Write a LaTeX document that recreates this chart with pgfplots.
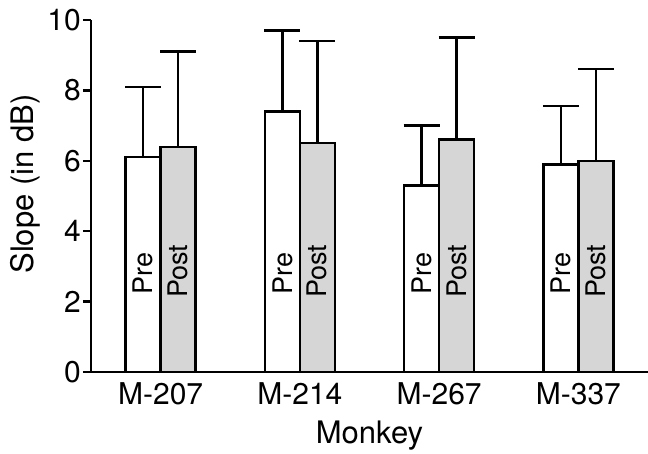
\documentclass[border=0pt]{standalone}
\usepackage{fontspec}
\setmainfont{TeX Gyre Heros}
\usepackage{pgfplots}
\pgfplotsset{compat=1.18}
\definecolor{stipple}{gray}{0.84}
\begin{document}
\begin{tikzpicture}
\begin{axis}[
  scale only axis, width=557pt, height=352pt,
  xmin=-0.5, xmax=3.5, ymin=0, ymax=10,
  axis x line*=bottom, axis y line*=left,
  axis line style={line width=2.6pt},
  xtick={0,1,2,3}, xticklabels={M-207,M-214,M-267,M-337},
  x tick style={draw=none},
  ytick={0,2,4,6,8,10},
  y tick style={line width=2.4pt, black},
  tick align=outside, major tick length=8pt,
  /pgf/number format/assume math mode=true,
  ticklabel style={font=\fontsize{30}{32}\selectfont, inner sep=2pt},
  label style={font=\fontsize{31}{33}\selectfont},
  xlabel={Monkey},
  ylabel={Slope (in dB)},
  ylabel style={at={(axis description cs:-0.118,0.534)}, anchor=center},
  xlabel style={at={(axis description cs:0.5,-0.203)}, anchor=base},
  ybar=0pt, bar width=35pt,
  clip=false,
  every axis plot/.append style={line width=2.4pt, draw=black},
  error bars/y dir=plus, error bars/y explicit,
  error bars/error bar style={line width=2.4pt, black},
  error bars/error mark options={rotate=90, line width=2.4pt, black, mark size=18pt},
]
\addplot[fill=white] coordinates {
  (0,6.1) +- (0,2.0)
  (1,7.4) +- (0,2.3)
  (2,5.3) +- (0,1.7)
  (3,5.9) +- (0,1.65)
};
\addplot[fill=stipple] coordinates {
  (0,6.4) +- (0,2.7)
  (1,6.5) +- (0,2.9)
  (2,6.6) +- (0,2.9)
  (3,6.0) +- (0,2.6)
};
\foreach \i in {0,1,2,3} {
  \edef\tmp{\noexpand\node[rotate=90, anchor=west, inner sep=0pt, font=\noexpand\fontsize{27}{29}\noexpand\selectfont] at (axis cs:\i-0.125,2.19) {Pre};
  \noexpand\node[rotate=90, anchor=west, inner sep=0pt, font=\noexpand\fontsize{27}{29}\noexpand\selectfont] at (axis cs:\i+0.125,2.1) {Post};}
  \tmp
}
\end{axis}
\pgfresetboundingbox
\path ([xshift=-91pt,yshift=-81pt]current axis.south west) rectangle ++(648pt,453pt);
\end{tikzpicture}
\end{document}
